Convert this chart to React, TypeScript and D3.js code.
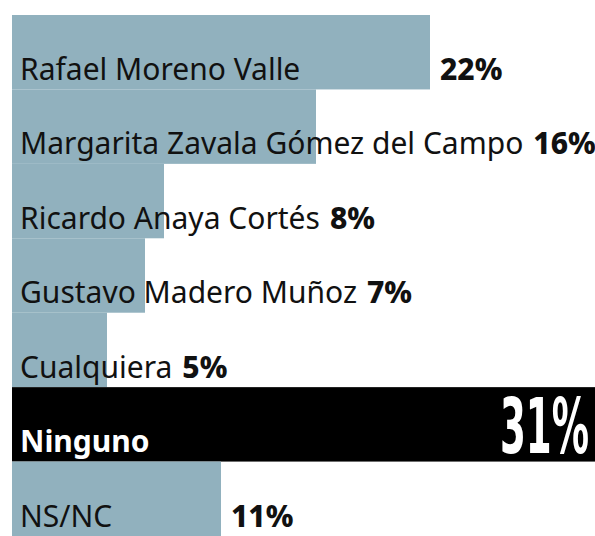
import * as d3 from "d3";
import { useEffect, useRef } from "react";

const names = [
  "Rafael Moreno Valle",
  "Margarita Zavala Gómez del Campo",
  "Ricardo Anaya Cortés",
  "Gustavo Madero Muñoz",
  "Cualquiera",
  "Ninguno",
  "NS/NC",
];
const values = [22, 16, 8, 7, 5, 31, 11];
const highlight = "Ninguno";

const App = () => {
  const svgRef = useRef<SVGSVGElement>(null);

  const width = 595;
  const height = 536;
  const margin = { top: 15, left: 12 };
  const font = "'Noto Sans', 'Open Sans', sans-serif";
  const fontSize = 30;

  useEffect(() => {
    const svg = d3.select(svgRef.current);
    svg.selectAll("*").remove();

    const x = d3.scaleLinear().domain([0, 31]).range([margin.left, margin.left + 31 * 19]);
    const y = d3.scaleBand().domain(names).range([margin.top, height]).padding(0);

    const rows = names.map((n, i) => ({ name: n, value: values[i] }));

    // barras
    svg.selectAll("rect.bar")
      .data(rows)
      .enter()
      .append("rect")
      .attr("class", "bar")
      .attr("x", x(0))
      .attr("y", d => y(d.name)!)
      .attr("width", d => (d.name === highlight ? width - x(0) : x(d.value) - x(0)))
      .attr("height", y.bandwidth())
      .style("fill", d => (d.name === highlight ? "#000" : "#91b1be"));

    rows.forEach(d => {
      const top = y(d.name)!;
      const base = top + 65;
      const isHi = d.name === highlight;

      const label = svg.append("text")
        .attr("x", 20)
        .attr("y", base)
        .style("font-family", font)
        .style("font-size", `${fontSize}px`)
        .style("font-weight", isHi ? 700 : 400)
        .style("fill", isHi ? "#fff" : "#111")
        .text(d.name);

      if (isHi) {
        svg.append("text")
          .attr("x", 589)
          .attr("y", top + 66)
          .attr("text-anchor", "end")
          .attr("textLength", 89)
          .attr("lengthAdjust", "spacingAndGlyphs")
          .style("font-family", "'Liberation Sans Narrow', 'DejaVu Sans Condensed', sans-serif")
          .style("font-size", "76px")
          .style("font-weight", 700)
          .style("fill", "#fff")
          .text(`${d.value}%`);
        return;
      }

      const textEnd = 20 + (label.node() as SVGTextElement).getComputedTextLength();
      const start = Math.max(textEnd, x(d.value)) + 10;
      svg.append("text")
        .attr("x", start)
        .attr("y", base)
        .style("font-family", font)
        .style("font-size", `${fontSize}px`)
        .style("font-weight", 800)
        .style("fill", "#111")
        .text(`${d.value}%`);
    });
  }, []);

  return (
    <svg
      ref={svgRef}
      width={width}
      height={height}
      style={{ display: "block", position: "absolute", left: 0, top: 0, background: "#fff" }}
    ></svg>
  );
};

export default App;
